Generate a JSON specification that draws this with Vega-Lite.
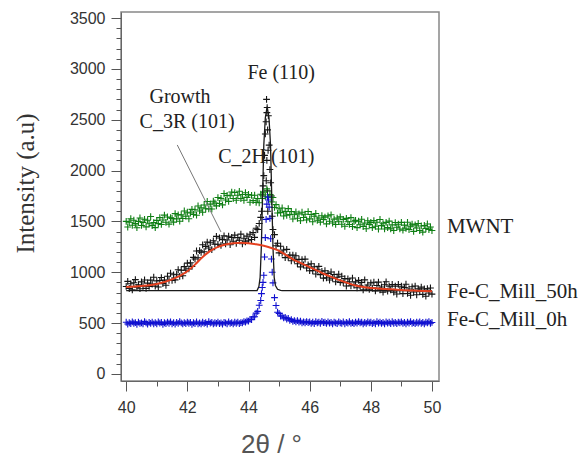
{
"$schema":"https://vega.github.io/schema/vega-lite/v6.json",
"autosize":"none","width":318,"height":369,
"padding":{"left":121,"top":12,"right":148,"bottom":78},
"background":"white",
"config":{"view":{"stroke":"#888","strokeWidth":1.5},"axis":{"labelOverlap":false}},
"datasets":{
"pts":[
{"x":40.00,"g":1500,"k":860,"b":508},{"x":40.05,"g":1445,"k":910,"b":490},{"x":40.10,"g":1491,"k":840,"b":503},{"x":40.15,"g":1526,"k":886,"b":494},{"x":40.20,"g":1462,"k":826,"b":512},
{"x":40.25,"g":1512,"k":896,"b":498},{"x":40.30,"g":1478,"k":927,"b":505},{"x":40.35,"g":1438,"k":852,"b":488},{"x":40.40,"g":1499,"k":877,"b":509},{"x":40.45,"g":1534,"k":838,"b":496},
{"x":40.50,"g":1460,"k":905,"b":501},{"x":40.55,"g":1490,"k":862,"b":492},{"x":40.60,"g":1521,"k":924,"b":514},{"x":40.65,"g":1446,"k":841,"b":502},{"x":40.70,"g":1512,"k":893,"b":489},
{"x":40.75,"g":1477,"k":860,"b":506},{"x":40.80,"g":1548,"k":922,"b":497},{"x":40.85,"g":1458,"k":884,"b":510},{"x":40.90,"g":1489,"k":951,"b":493},{"x":40.95,"g":1439,"k":863,"b":504},
{"x":41.00,"g":1510,"k":915,"b":491},{"x":41.05,"g":1478,"k":855,"b":511},{"x":41.10,"g":1537,"k":919,"b":499},{"x":41.15,"g":1470,"k":948,"b":507},{"x":41.20,"g":1514,"k":888,"b":487},
{"x":41.25,"g":1562,"k":922,"b":503},{"x":41.30,"g":1491,"k":872,"b":495},{"x":41.35,"g":1544,"k":961,"b":509},{"x":41.40,"g":1473,"k":921,"b":498},{"x":41.45,"g":1536,"k":990,"b":512},
{"x":41.50,"g":1530,"k":920,"b":492},{"x":41.55,"g":1493,"k":975,"b":505},{"x":41.60,"g":1577,"k":925,"b":490},{"x":41.65,"g":1525,"k":980,"b":506},{"x":41.70,"g":1564,"k":1025,"b":497},
{"x":41.75,"g":1502,"k":960,"b":513},{"x":41.80,"g":1566,"k":1020,"b":501},{"x":41.85,"g":1529,"k":965,"b":491},{"x":41.90,"g":1603,"k":1055,"b":504},{"x":41.95,"g":1551,"k":1020,"b":494},
{"x":42.00,"g":1590,"k":1090,"b":510},{"x":42.05,"g":1526,"k":1034,"b":498},{"x":42.10,"g":1582,"k":1093,"b":507},{"x":42.15,"g":1618,"k":1057,"b":488},{"x":42.20,"g":1569,"k":1146,"b":503},
{"x":42.25,"g":1615,"k":1130,"b":495},{"x":42.30,"g":1561,"k":1209,"b":511},{"x":42.35,"g":1652,"k":1143,"b":493},{"x":42.40,"g":1603,"k":1212,"b":502},{"x":42.45,"g":1634,"k":1196,"b":491},
{"x":42.50,"g":1590,"k":1270,"b":508},{"x":42.55,"g":1662,"k":1202,"b":497},{"x":42.60,"g":1624,"k":1254,"b":505},{"x":42.65,"g":1696,"k":1296,"b":489},{"x":42.70,"g":1623,"k":1238,"b":514},
{"x":42.75,"g":1670,"k":1290,"b":499},{"x":42.80,"g":1622,"k":1222,"b":506},{"x":42.85,"g":1699,"k":1309,"b":492},{"x":42.90,"g":1681,"k":1276,"b":503},{"x":42.95,"g":1653,"k":1353,"b":496},
{"x":43.00,"g":1735,"k":1275,"b":509},{"x":43.05,"g":1676,"k":1337,"b":494},{"x":43.10,"g":1727,"k":1264,"b":502},{"x":43.15,"g":1663,"k":1321,"b":490},{"x":43.20,"g":1774,"k":1358,"b":507},
{"x":43.25,"g":1710,"k":1280,"b":501},{"x":43.30,"g":1756,"k":1317,"b":493},{"x":43.35,"g":1697,"k":1354,"b":512},{"x":43.40,"g":1753,"k":1271,"b":497},{"x":43.45,"g":1789,"k":1343,"b":505},
{"x":43.50,"g":1725,"k":1305,"b":491},{"x":43.55,"g":1784,"k":1365,"b":508},{"x":43.60,"g":1708,"k":1285,"b":498},{"x":43.65,"g":1757,"k":1340,"b":510},{"x":43.70,"g":1796,"k":1315,"b":495},
{"x":43.75,"g":1725,"k":1375,"b":505},{"x":43.80,"g":1764,"k":1280,"b":501},{"x":43.85,"g":1708,"k":1335,"b":514},{"x":43.90,"g":1782,"k":1300,"b":509},{"x":43.95,"g":1736,"k":1355,"b":521},
{"x":44.00,"g":1765,"k":1310,"b":518},{"x":44.05,"g":1688,"k":1373,"b":536},{"x":44.10,"g":1757,"k":1322,"b":535},{"x":44.15,"g":1705,"k":1390,"b":559},{"x":44.20,"g":1758,"k":1343,"b":562},
{"x":44.25,"g":1687,"k":1432,"b":598},{"x":44.30,"g":1725,"k":1420,"b":615},{"x":44.35,"g":1683,"k":1480,"b":675},{"x":44.40,"g":1767,"k":1540,"b":722},{"x":44.45,"g":1725,"k":1760,"b":850},
{"x":44.50,"g":1788,"k":1950,"b":970},{"x":44.55,"g":1747,"k":2360,"b":1340},{"x":44.60,"g":1820,"k":2570,"b":1670},{"x":44.65,"g":1732,"k":2540,"b":1710},{"x":44.70,"g":1765,"k":2010,"b":1530},
{"x":44.75,"g":1692,"k":1750,"b":1130},{"x":44.80,"g":1735,"k":1420,"b":895},{"x":44.85,"g":1637,"k":1370,"b":750},{"x":44.90,"g":1665,"k":1260,"b":672},{"x":44.95,"g":1582,"k":1285,"b":607},
{"x":45.00,"g":1625,"k":1190,"b":595},{"x":45.05,"g":1586,"k":1256,"b":569},{"x":45.10,"g":1632,"k":1187,"b":569},{"x":45.15,"g":1553,"k":1218,"b":550},{"x":45.20,"g":1599,"k":1144,"b":555},
{"x":45.25,"g":1560,"k":1225,"b":540},{"x":45.30,"g":1626,"k":1146,"b":545},{"x":45.35,"g":1567,"k":1167,"b":527},{"x":45.40,"g":1598,"k":1113,"b":534},{"x":45.45,"g":1524,"k":1169,"b":516},
{"x":45.50,"g":1570,"k":1125,"b":524},{"x":45.55,"g":1593,"k":1162,"b":512},{"x":45.60,"g":1531,"k":1084,"b":525},{"x":45.65,"g":1574,"k":1126,"b":510},{"x":45.70,"g":1507,"k":1053,"b":519},
{"x":45.75,"g":1590,"k":1125,"b":501},{"x":45.80,"g":1538,"k":1072,"b":512},{"x":45.85,"g":1571,"k":1129,"b":503},{"x":45.90,"g":1514,"k":1041,"b":515},{"x":45.95,"g":1597,"k":1073,"b":504},
{"x":46.00,"g":1525,"k":1015,"b":511},{"x":46.05,"g":1568,"k":1083,"b":497},{"x":46.10,"g":1496,"k":1016,"b":509},{"x":46.15,"g":1550,"k":1054,"b":494},{"x":46.20,"g":1578,"k":982,"b":514},
{"x":46.25,"g":1511,"k":1025,"b":502},{"x":46.30,"g":1534,"k":1058,"b":510},{"x":46.35,"g":1493,"k":976,"b":498},{"x":46.40,"g":1556,"k":1009,"b":516},{"x":46.45,"g":1519,"k":942,"b":504},
{"x":46.50,"g":1542,"k":1015,"b":508},{"x":46.55,"g":1476,"k":944,"b":496},{"x":46.60,"g":1554,"k":989,"b":511},{"x":46.65,"g":1502,"k":923,"b":499},{"x":46.70,"g":1565,"k":1003,"b":507},
{"x":46.75,"g":1484,"k":942,"b":493},{"x":46.80,"g":1522,"k":977,"b":510},{"x":46.85,"g":1470,"k":906,"b":502},{"x":46.90,"g":1533,"k":951,"b":495},{"x":46.95,"g":1497,"k":980,"b":512},
{"x":47.00,"g":1545,"k":900,"b":501},{"x":47.05,"g":1472,"k":961,"b":497},{"x":47.10,"g":1520,"k":897,"b":511},{"x":47.15,"g":1452,"k":938,"b":493},{"x":47.20,"g":1530,"k":864,"b":507},
{"x":47.25,"g":1497,"k":935,"b":500},{"x":47.30,"g":1470,"k":906,"b":513},{"x":47.35,"g":1537,"k":867,"b":496},{"x":47.40,"g":1450,"k":943,"b":505},{"x":47.45,"g":1497,"k":874,"b":494},
{"x":47.50,"g":1510,"k":905,"b":509},{"x":47.55,"g":1439,"k":847,"b":499},{"x":47.60,"g":1503,"k":920,"b":514},{"x":47.65,"g":1467,"k":867,"b":501},{"x":47.70,"g":1521,"k":900,"b":510},
{"x":47.75,"g":1450,"k":827,"b":492},{"x":47.80,"g":1484,"k":925,"b":506},{"x":47.85,"g":1428,"k":847,"b":497},{"x":47.90,"g":1507,"k":875,"b":512},{"x":47.95,"g":1471,"k":832,"b":502},
{"x":48.00,"g":1490,"k":895,"b":508},{"x":48.05,"g":1439,"k":844,"b":495},{"x":48.10,"g":1508,"k":902,"b":505},{"x":48.15,"g":1452,"k":816,"b":493},{"x":48.20,"g":1491,"k":869,"b":515},
{"x":48.25,"g":1425,"k":903,"b":499},{"x":48.30,"g":1519,"k":827,"b":509},{"x":48.35,"g":1458,"k":855,"b":496},{"x":48.40,"g":1477,"k":804,"b":506},{"x":48.45,"g":1426,"k":877,"b":492},
{"x":48.50,"g":1490,"k":906,"b":511},{"x":48.55,"g":1439,"k":815,"b":500},{"x":48.60,"g":1503,"k":863,"b":508},{"x":48.65,"g":1427,"k":827,"b":494},{"x":48.70,"g":1466,"k":880,"b":513},
{"x":48.75,"g":1410,"k":804,"b":498},{"x":48.80,"g":1489,"k":863,"b":507},{"x":48.85,"g":1443,"k":786,"b":495},{"x":48.90,"g":1472,"k":880,"b":510},{"x":48.95,"g":1426,"k":823,"b":501},
{"x":49.00,"g":1490,"k":862,"b":512},{"x":49.05,"g":1414,"k":790,"b":497},{"x":49.10,"g":1463,"k":849,"b":506},{"x":49.15,"g":1432,"k":882,"b":493},{"x":49.20,"g":1491,"k":791,"b":509},
{"x":49.25,"g":1420,"k":835,"b":499},{"x":49.30,"g":1454,"k":773,"b":514},{"x":49.35,"g":1473,"k":857,"b":496},{"x":49.40,"g":1402,"k":805,"b":505},{"x":49.45,"g":1466,"k":864,"b":494},
{"x":49.50,"g":1435,"k":778,"b":508},{"x":49.55,"g":1480,"k":836,"b":500},{"x":49.60,"g":1410,"k":810,"b":511},{"x":49.65,"g":1455,"k":853,"b":497},{"x":49.70,"g":1395,"k":782,"b":507},
{"x":49.75,"g":1460,"k":836,"b":492},{"x":49.80,"g":1430,"k":764,"b":510},{"x":49.85,"g":1475,"k":838,"b":501},{"x":49.90,"g":1420,"k":796,"b":513},{"x":49.95,"g":1445,"k":845,"b":498},
{"x":50.00,"g":1410,"k":785,"b":506},
{"x":44.425,"k":1600,"b":790},{"x":44.475,"k":1850,"b":900},{"x":44.525,"k":2150,"b":1150},{"x":44.575,"k":2480,"b":1520},
{"x":44.59,"k":2700},{"x":44.61,"k":2620},{"x":44.625,"k":2400,"b":1740},{"x":44.64,"k":2200},{"x":44.675,"k":2250,"b":1640},
{"x":44.725,"k":1880,"b":1330},{"x":44.775,"k":1550,"b":1000},{"x":44.58,"k":1900},{"x":44.62,"k":1800},{"x":44.60,"k":2100},{"x":44.63,"k":1600}
],
"red":[
{"x":40,"y":855},{"x":40.5,"y":865},{"x":41,"y":885},{"x":41.5,"y":930},{"x":41.75,"y":965},{"x":42,"y":1010},{"x":42.25,"y":1075},{"x":42.5,"y":1150},{"x":42.75,"y":1210},{"x":43,"y":1250},{"x":43.25,"y":1272},{"x":43.5,"y":1285},{"x":43.75,"y":1290},{"x":44,"y":1285},{"x":44.25,"y":1275},{"x":44.5,"y":1260},{"x":44.75,"y":1238},{"x":45,"y":1210},{"x":45.25,"y":1165},{"x":45.5,"y":1120},{"x":45.75,"y":1085},{"x":46,"y":1050},{"x":46.25,"y":1015},{"x":46.5,"y":980},{"x":46.75,"y":950},{"x":47,"y":920},{"x":47.25,"y":893},{"x":47.5,"y":870},{"x":47.75,"y":855},{"x":48,"y":845},{"x":48.5,"y":835},{"x":49,"y":825},{"x":49.5,"y":818},{"x":50,"y":812}
],
"blk":[
{"x":40,"y":820},{"x":44.28,"y":820},{"x":44.34,"y":860},{"x":44.38,"y":950},{"x":44.42,"y":1250},{"x":44.46,"y":1750},{"x":44.5,"y":2250},{"x":44.55,"y":2520},{"x":44.61,"y":2630},{"x":44.67,"y":2520},{"x":44.72,"y":2250},{"x":44.76,"y":1750},{"x":44.8,"y":1250},{"x":44.84,"y":950},{"x":44.88,"y":870},{"x":44.95,"y":832},{"x":45.05,"y":822},{"x":45.1,"y":820},{"x":50,"y":820}
],
"ann":[
{"x":45.07,"y":2960,"t":"Fe (110)"},{"x":41.76,"y":2724,"t":"Growth"},{"x":41.99,"y":2478,"t":"C_3R (101)"},{"x":44.58,"y":2134,"t":"C_2H (101)"}
],
"lbl":[
{"x":50.49,"y":1445,"t":"MWNT"},{"x":50.49,"y":806,"t":"Fe-C_Mill_50h"},{"x":50.49,"y":531,"t":"Fe-C_Mill_0h"}
],
"ptr":[{"x":41.67,"y":2252,"x2":43.1,"y2":1396}]
},
"encoding":{
  "x":{"field":"x","type":"quantitative","scale":{"domain":[39.83,50.23],"nice":false,"zero":false},
   "axis":{"values":[40,40.5,41,41.5,42,42.5,43,43.5,44,44.5,45,45.5,46,46.5,47,47.5,48,48.5,49,49.5,50],
    "labelExpr":"datum.value % 2 === 0 ? datum.label : ''","format":"d","grid":false,"labelOverlap":false,"labelFlush":false,
    "tickSize":{"condition":{"test":"datum.value % 2 === 0","value":10},"value":5},
    "tickColor":"#555","domainColor":"#666","labelFont":"Liberation Sans","labelFontSize":16,"labelColor":"#333","labelPadding":8,
    "title":"2θ / °","titleFont":"Liberation Sans","titleFontSize":26,"titleFontWeight":"normal","titleColor":"#555",
    "titleX":150,"titleY":63,"titleAlign":"center","titleBaseline":"middle"}},
  "y":{"field":"y","type":"quantitative","scale":{"domain":[-70,3560],"nice":false,"zero":false},
   "axis":{"values":[0,100,200,300,400,500,600,700,800,900,1000,1100,1200,1300,1400,1500,1600,1700,1800,1900,2000,2100,2200,2300,2400,2500,2600,2700,2800,2900,3000,3100,3200,3300,3400,3500],
    "labelExpr":"datum.value % 500 === 0 ? datum.label : ''","format":"d","grid":false,"labelOverlap":false,"labelFlush":false,
    "tickSize":{"condition":{"test":"datum.value % 500 === 0","value":10},"value":5},
    "tickColor":"#555","domainColor":"#666","labelFont":"Liberation Sans","labelFontSize":16,"labelColor":"#333","labelPadding":6,
    "title":"Intensity (a.u)","titleFont":"Liberation Serif","titleFontSize":25,"titleFontWeight":"normal","titleColor":"#333",
    "titleX":-96,"titleY":171,"titleAngle":-90,"titleAlign":"center","titleBaseline":"middle"}}
},
"layer":[
{"data":{"name":"pts"},
 "transform":[{"fold":["g","k","b"],"as":["s","y"]},{"filter":"isValid(datum.y)"}],
 "mark":{"type":"point","shape":"M-1,0L1,0M0,-1L0,1","filled":false,"size":46,"strokeWidth":1.1,"opacity":1},
 "encoding":{
  "color":{"field":"s","type":"nominal","scale":{"domain":["g","k","b"],"range":["#0f7f14","#141414","#1010d0"]},"legend":null},
  "order":{"field":"s","sort":"descending"}
 }},
{"data":{"name":"blk"},"mark":{"type":"line","color":"#1a1a1a","strokeWidth":1.3}},
{"data":{"name":"red"},"mark":{"type":"line","color":"#e5401f","strokeWidth":2,"interpolate":"monotone"}},
{"data":{"name":"ptr"},"mark":{"type":"rule","color":"#777","strokeWidth":1},
 "encoding":{"x2":{"field":"x2"},"y2":{"field":"y2"}}},
{"data":{"name":"ann"},"mark":{"type":"text","font":"Liberation Serif","fontSize":20,"color":"#222","align":"center","baseline":"middle"},
 "encoding":{"text":{"field":"t"}}},
{"data":{"name":"lbl"},"mark":{"type":"text","font":"Liberation Serif","fontSize":21,"color":"#222","align":"left","baseline":"middle"},
 "encoding":{"text":{"field":"t"}}}
]
}
